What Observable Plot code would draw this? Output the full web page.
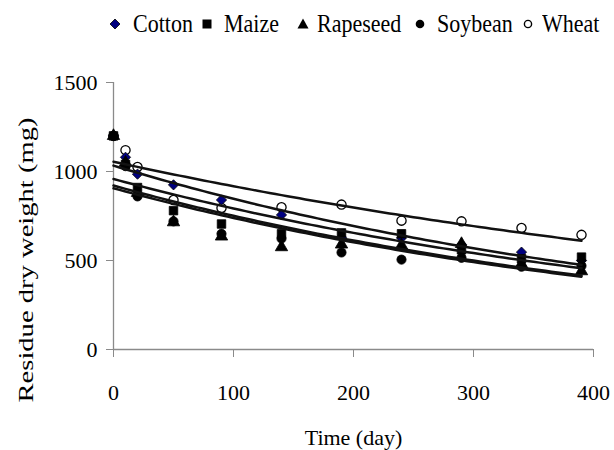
<!DOCTYPE html>
<html>
<head>
<meta charset="utf-8">
<script src="https://cdn.jsdelivr.net/npm/d3@7"></script>
<script src="https://cdn.jsdelivr.net/npm/@observablehq/plot@0.6"></script>
<style>
  html, body { margin: 0; padding: 0; background: #fff; }
  #wrap { width: 614px; font-family: "Liberation Serif", serif; }
  #legend { position: relative; width: 614px; height: 50px; font-size: 22px; color: #000; font-family: "Liberation Serif", serif; }
  #legend .item { position: absolute; top: 10px; line-height: 28px; white-space: nowrap; font-family: "Liberation Serif", serif; transform: scaleY(1.12); }
  #legend svg.sym { position: absolute; }
  #chart svg, #chart svg text { font-family: "Liberation Serif", serif !important; }
</style>
</head>
<body>
<div id="wrap">
  <div id="legend"></div>
  <div id="chart"></div>
</div>
<script>
// ---- data ----
const days = [0, 10, 20, 50, 90, 140, 190, 240, 290, 340, 390];
const seriesNames = ["Cotton", "Maize", "Rapeseed", "Soybean", "Wheat"];
const cotton   = [1200, 1080, 985, 925, 840, 756, 630, 627, 590, 547, 500];
const maize    = [1200, 1040, 910, 780, 705, 650, 655, 650, 560, 510, 519];
const rapeseed = [1200, 1050, 880, 715, 635, 575, 590, 585, 593, 480, 440];
const soybean  = [1200, 1030, 860, 720, 650, 623, 545, 505, 515, 465, 470];
const wheat    = [1200, 1120, 1025, 840, 795, 799, 814, 724, 720, 683, 644];
// exponential trendline coefficients y = a * exp(-k * t)
const trendA = [1033, 958, 921, 906, 1055];
const trendK = [0.00199, 0.00190, 0.00204, 0.00204, 0.00140];
const xTicks = [0, 100, 200, 300, 400];
const yTicks = [0, 500, 1000, 1500];

// ---- styling per series ----
const symbols = ["diamond2", "square", "triangle", "circle", "circle"];
const fills   = ["#000080", "#000", "#000", "#000", "#fff"];
const drawOrder = [4, 0, 3, 2, 1]; // Wheat below, Maize on top

const values = [cotton, maize, rapeseed, soybean, wheat];
const points = [];
seriesNames.forEach((s, i) => days.forEach((d, j) => points.push({series: s, idx: i, day: d, value: values[i][j]})));

const trend = [];
seriesNames.forEach((s, i) => {
  for (let t = 0; t <= 390; t += 5) trend.push({series: s, day: t, value: trendA[i] * Math.exp(-trendK[i] * t)});
});

const yTitle = "Residue dry weight (mg)";
const marks = [
  Plot.ruleX([0], {stroke: "#8a8a8a", strokeWidth: 1.3}),
  Plot.ruleY([0], {stroke: "#8a8a8a", strokeWidth: 1.3}),
  Plot.axisY({ticks: yTicks, tickSize: 7, tickPadding: 9, stroke: "#8a8a8a", fill: "#000", label: null, tickFormat: d => String(d)}),
  Plot.axisX({ticks: xTicks, tickSize: 8, tickPadding: 27, stroke: "#8a8a8a", fill: "#000", label: null, tickFormat: d => String(d)})
];
drawOrder.forEach(i => {
  marks.push(Plot.dot(points.filter(p => p.idx === i), {
    x: "day", y: "value", symbol: () => symbols[i], r: i === 1 ? 4.8 : 4.6,
    fill: fills[i], stroke: "#000", strokeWidth: i === 4 ? 1.3 : 0.8
  }));
});
marks.push(Plot.line(trend, {x: "day", y: "value", z: "series", stroke: "#111", strokeWidth: 2.5}));
marks.push(Plot.text([yTitle], {frameAnchor: "left", textAnchor: "middle", dx: -88, dy: 44, rotate: -90, fontSize: 22, fill: "#000"}));
marks.push(Plot.text(["Time (day)"], {frameAnchor: "bottom", textAnchor: "middle", dy: 95, fontSize: 22, fill: "#000"}));

const chart = Plot.plot({
  width: 614, height: 400,
  marginTop: 32, marginBottom: 101, marginLeft: 113, marginRight: 21,
  style: {fontFamily: "Liberation Serif, serif", fontSize: "22px", color: "#000", background: "#fff", overflow: "visible"},
  x: {domain: [0, 400]},
  y: {domain: [0, 1500]},
  symbol: {type: "identity"},
  marks
});
// the reference's y title is stretched along its length
const yt = [...chart.querySelectorAll("text")].find(e => e.textContent === yTitle);
if (yt) {
  const tr = yt.getAttribute("transform") || "";
  if (tr.includes("rotate")) yt.setAttribute("transform", tr + " scale(1.3,1)");
  else yt.setAttribute("transform", (tr ? tr + " " : "") + "scale(1.3,1)");
}
document.getElementById("chart").appendChild(chart);

// ---- legend ----
const legend = document.getElementById("legend");
const legendSym = [
  '<path d="M0,-5 L5,0 L0,5 L-5,0 Z" fill="#000080" stroke="#000" stroke-width="0.8"/>',
  '<rect x="-4.5" y="-4.5" width="9" height="9" fill="#000"/>',
  '<path d="M0,-5.5 L5.5,4.5 L-5.5,4.5 Z" fill="#000"/>',
  '<circle r="4.3" fill="#000"/>',
  '<circle r="3.6" fill="#fff" stroke="#000" stroke-width="1.4"/>'
];
const symX = [115, 207, 303, 420, 528];
const textX = [133, 224, 317, 437, 542];
seriesNames.forEach((s, i) => {
  const sv = document.createElementNS("http://www.w3.org/2000/svg", "svg");
  sv.setAttribute("class", "sym");
  sv.setAttribute("width", 14); sv.setAttribute("height", 14);
  sv.setAttribute("viewBox", "-7 -7 14 14");
  sv.style.left = (symX[i] - 7) + "px";
  sv.style.top = (24 - 7) + "px";
  sv.innerHTML = legendSym[i];
  legend.appendChild(sv);
  const sp = document.createElement("span");
  sp.className = "item";
  sp.style.left = textX[i] + "px";
  sp.textContent = s;
  legend.appendChild(sp);
});
</script>
</body>
</html>
